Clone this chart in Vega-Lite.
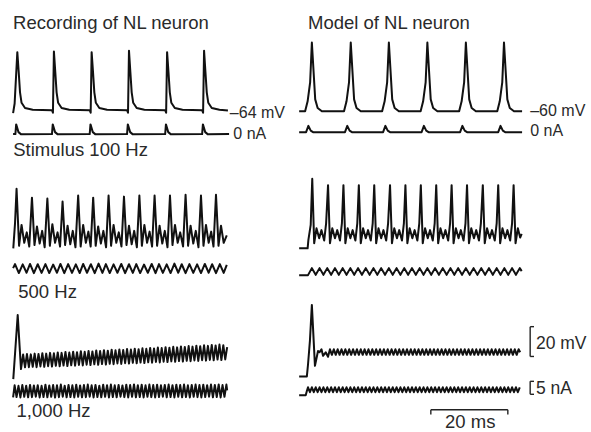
{
"$schema": "https://vega.github.io/schema/vega-lite/v6.json",
"width": 591, "height": 432,
"autosize": {"type": "fit", "contains": "padding"},
"padding": 0,
"background": "white",
"config": {"view": {"stroke": null}},
"datasets": {
"tr": [
{"k":"a","t":3.4,"v":212},{"k":"a","t":3.8,"v":218.5},{"k":"a","t":4.5,"v":253},{"k":"a","t":4.85,"v":240},{"k":"a","t":5.2,"v":226},{"k":"a","t":5.6,"v":219},{"k":"a","t":6.5,"v":215.5},{"k":"a","t":8.5,"v":214.3},{"k":"a","t":13.5,"v":214},{"k":"a","t":13.75,"v":212.3},
{"k":"a","t":14.0,"v":253.5},{"k":"a","t":14.35,"v":240},{"k":"a","t":14.7,"v":226},{"k":"a","t":15.1,"v":219},{"k":"a","t":16.0,"v":215.5},{"k":"a","t":18.0,"v":214.3},{"k":"a","t":23.3,"v":214},{"k":"a","t":23.55,"v":212.3},
{"k":"a","t":23.8,"v":253},{"k":"a","t":24.15,"v":240},{"k":"a","t":24.5,"v":226},{"k":"a","t":24.9,"v":219},{"k":"a","t":25.8,"v":215.5},{"k":"a","t":27.8,"v":214.3},{"k":"a","t":33.0,"v":214},{"k":"a","t":33.25,"v":212.3},
{"k":"a","t":33.5,"v":254},{"k":"a","t":33.85,"v":240},{"k":"a","t":34.2,"v":226},{"k":"a","t":34.6,"v":219},{"k":"a","t":35.5,"v":215.5},{"k":"a","t":37.5,"v":214.3},{"k":"a","t":42.9,"v":214},{"k":"a","t":43.15,"v":212.3},
{"k":"a","t":43.4,"v":253},{"k":"a","t":43.75,"v":240},{"k":"a","t":44.1,"v":226},{"k":"a","t":44.5,"v":219},{"k":"a","t":45.4,"v":215.5},{"k":"a","t":47.4,"v":214.3},{"k":"a","t":52.5,"v":214},{"k":"a","t":52.75,"v":212.3},
{"k":"a","t":53.0,"v":254},{"k":"a","t":53.35,"v":240},{"k":"a","t":53.7,"v":226},{"k":"a","t":54.1,"v":219},{"k":"a","t":55.0,"v":215.5},{"k":"a","t":57.0,"v":214.3},{"k":"a","t":59.2,"v":213.8},
{"k":"b","t":3.4,"v":198},{"k":"b","t":4.0,"v":198},{"k":"b","t":4.2,"v":204.5},{"k":"b","t":4.8,"v":199.3},{"k":"b","t":5.5,"v":197.8},
{"k":"b","t":13.5,"v":198},{"k":"b","t":13.7,"v":204.5},{"k":"b","t":14.3,"v":199.3},{"k":"b","t":15.0,"v":197.8},
{"k":"b","t":23.3,"v":198},{"k":"b","t":23.5,"v":204.5},{"k":"b","t":24.1,"v":199.3},{"k":"b","t":24.8,"v":197.8},
{"k":"b","t":33.0,"v":198},{"k":"b","t":33.2,"v":204.5},{"k":"b","t":33.8,"v":199.3},{"k":"b","t":34.5,"v":197.8},
{"k":"b","t":42.9,"v":198},{"k":"b","t":43.1,"v":204.5},{"k":"b","t":43.7,"v":199.3},{"k":"b","t":44.4,"v":197.8},
{"k":"b","t":52.5,"v":198},{"k":"b","t":52.7,"v":204.5},{"k":"b","t":53.3,"v":199.3},{"k":"b","t":54.0,"v":197.8},{"k":"b","t":59.5,"v":198},
{"k":"c","t":77.7,"v":213.3},
{"k":"c","t":79.25,"v":213.3},{"k":"c","t":79.9,"v":220},{"k":"c","t":80.55,"v":232.7},{"k":"c","t":81.0,"v":259.5},{"k":"c","t":81.87,"v":221.3},{"k":"c","t":82.5,"v":215.5},{"k":"c","t":83.6,"v":213.3},
{"k":"c","t":89.35,"v":213.3},{"k":"c","t":90.0,"v":220},{"k":"c","t":90.65,"v":232.7},{"k":"c","t":91.1,"v":259.5},{"k":"c","t":91.97,"v":221.3},{"k":"c","t":92.6,"v":215.5},{"k":"c","t":93.7,"v":213.3},
{"k":"c","t":99.25,"v":213.3},{"k":"c","t":99.9,"v":220},{"k":"c","t":100.55,"v":232.7},{"k":"c","t":101.0,"v":259.5},{"k":"c","t":101.87,"v":221.3},{"k":"c","t":102.5,"v":215.5},{"k":"c","t":103.6,"v":213.3},
{"k":"c","t":109.25,"v":213.3},{"k":"c","t":109.9,"v":220},{"k":"c","t":110.55,"v":232.7},{"k":"c","t":111.0,"v":259.5},{"k":"c","t":111.87,"v":221.3},{"k":"c","t":112.5,"v":215.5},{"k":"c","t":113.6,"v":213.3},
{"k":"c","t":119.25,"v":213.3},{"k":"c","t":119.9,"v":220},{"k":"c","t":120.55,"v":232.7},{"k":"c","t":121.0,"v":259.5},{"k":"c","t":121.87,"v":221.3},{"k":"c","t":122.5,"v":215.5},{"k":"c","t":123.6,"v":213.3},
{"k":"c","t":129.15,"v":213.3},{"k":"c","t":129.8,"v":220},{"k":"c","t":130.45,"v":232.7},{"k":"c","t":130.9,"v":259.5},{"k":"c","t":131.77,"v":221.3},{"k":"c","t":132.4,"v":215.5},{"k":"c","t":133.5,"v":213.3},{"k":"c","t":135.6,"v":213.3},
{"k":"d","t":77.7,"v":199.3},
{"k":"d","t":79.5,"v":199.3},{"k":"d","t":80.1,"v":203.5},{"k":"d","t":80.7,"v":200.3},{"k":"d","t":81.3,"v":199.3},
{"k":"d","t":89.6,"v":199.3},{"k":"d","t":90.2,"v":203.5},{"k":"d","t":90.8,"v":200.3},{"k":"d","t":91.4,"v":199.3},
{"k":"d","t":99.5,"v":199.3},{"k":"d","t":100.1,"v":203.5},{"k":"d","t":100.7,"v":200.3},{"k":"d","t":101.3,"v":199.3},
{"k":"d","t":109.5,"v":199.3},{"k":"d","t":110.1,"v":203.5},{"k":"d","t":110.7,"v":200.3},{"k":"d","t":111.3,"v":199.3},
{"k":"d","t":119.5,"v":199.3},{"k":"d","t":120.1,"v":203.5},{"k":"d","t":120.7,"v":200.3},{"k":"d","t":121.3,"v":199.3},
{"k":"d","t":129.4,"v":199.3},{"k":"d","t":130.0,"v":203.5},{"k":"d","t":130.6,"v":200.3},{"k":"d","t":131.2,"v":199.3},{"k":"d","t":135.6,"v":199.3},
{"k":"e","t":3.45,"v":121.3},{"k":"e","t":3.9,"v":138},{"k":"e","t":4.3,"v":161.3},
{"k":"e","t":4.95,"v":123},{"k":"e","t":5.6,"v":137},{"k":"e","t":6.3,"v":125},{"k":"e","t":6.95,"v":132},{"k":"e","t":7.6,"v":122.5},{"k":"e","t":8.3,"v":155.3},
{"k":"e","t":8.95,"v":123.5},{"k":"e","t":9.6,"v":136},{"k":"e","t":10.3,"v":124.5},{"k":"e","t":10.95,"v":133},{"k":"e","t":11.6,"v":122},{"k":"e","t":12.3,"v":154.7},
{"k":"e","t":12.95,"v":123},{"k":"e","t":13.6,"v":137.5},{"k":"e","t":14.3,"v":125},{"k":"e","t":14.95,"v":132},{"k":"e","t":15.6,"v":122.5},{"k":"e","t":16.25,"v":152.7},
{"k":"e","t":16.9,"v":123.5},{"k":"e","t":17.55,"v":136.5},{"k":"e","t":18.25,"v":124},{"k":"e","t":18.9,"v":133},{"k":"e","t":19.6,"v":122},{"k":"e","t":20.3,"v":156.7},
{"k":"e","t":20.95,"v":122.5},{"k":"e","t":21.6,"v":137},{"k":"e","t":22.3,"v":125},{"k":"e","t":22.95,"v":132.5},{"k":"e","t":23.55,"v":122.5},{"k":"e","t":24.2,"v":155.3},
{"k":"e","t":24.85,"v":123},{"k":"e","t":25.5,"v":136},{"k":"e","t":26.2,"v":124.5},{"k":"e","t":26.85,"v":133},{"k":"e","t":27.55,"v":122},{"k":"e","t":28.2,"v":156.7},
{"k":"e","t":28.85,"v":123},{"k":"e","t":29.5,"v":137},{"k":"e","t":30.2,"v":125},{"k":"e","t":30.85,"v":132},{"k":"e","t":31.55,"v":122.5},{"k":"e","t":32.2,"v":156},
{"k":"e","t":32.85,"v":123.5},{"k":"e","t":33.5,"v":136.5},{"k":"e","t":34.2,"v":124},{"k":"e","t":34.85,"v":133},{"k":"e","t":35.55,"v":122},{"k":"e","t":36.2,"v":156.7},
{"k":"e","t":36.85,"v":123},{"k":"e","t":37.5,"v":137},{"k":"e","t":38.2,"v":125},{"k":"e","t":38.85,"v":132.5},{"k":"e","t":39.5,"v":122.5},{"k":"e","t":40.15,"v":156.7},
{"k":"e","t":40.8,"v":123},{"k":"e","t":41.45,"v":136.5},{"k":"e","t":42.15,"v":124.5},{"k":"e","t":42.8,"v":133},{"k":"e","t":43.5,"v":122},{"k":"e","t":44.15,"v":156.7},
{"k":"e","t":44.8,"v":123.5},{"k":"e","t":45.45,"v":137},{"k":"e","t":46.15,"v":125},{"k":"e","t":46.8,"v":132},{"k":"e","t":47.55,"v":122.5},{"k":"e","t":48.2,"v":157.3},
{"k":"e","t":48.85,"v":123},{"k":"e","t":49.5,"v":136.5},{"k":"e","t":50.2,"v":124.5},{"k":"e","t":50.85,"v":133},{"k":"e","t":51.55,"v":122},{"k":"e","t":52.2,"v":156.7},
{"k":"e","t":52.85,"v":123},{"k":"e","t":53.5,"v":137},{"k":"e","t":54.2,"v":125},{"k":"e","t":54.85,"v":132.5},{"k":"e","t":55.45,"v":122.5},{"k":"e","t":56.1,"v":157.3},
{"k":"e","t":56.75,"v":123},{"k":"e","t":57.4,"v":136.5},{"k":"e","t":58.1,"v":125},{"k":"e","t":58.9,"v":130},
{"k":"f","t":3.4,"v":108},{"k":"f","t":3.9,"v":110.7},{"k":"f","t":4.9,"v":104.7},{"k":"f","t":5.9,"v":110.5},{"k":"f","t":6.9,"v":104.9},{"k":"f","t":7.8,"v":110.8},{"k":"f","t":8.8,"v":104.6},{"k":"f","t":9.8,"v":110.6},{"k":"f","t":10.8,"v":104.8},{"k":"f","t":11.8,"v":110.7},{"k":"f","t":12.8,"v":104.7},{"k":"f","t":13.8,"v":110.4},{"k":"f","t":14.8,"v":104.9},{"k":"f","t":15.7,"v":110.8},{"k":"f","t":16.7,"v":104.6},{"k":"f","t":17.7,"v":110.7},{"k":"f","t":18.7,"v":104.8},{"k":"f","t":19.7,"v":110.5},{"k":"f","t":20.7,"v":104.7},{"k":"f","t":21.6,"v":110.8},{"k":"f","t":22.6,"v":104.9},{"k":"f","t":23.6,"v":110.6},{"k":"f","t":24.6,"v":104.6},{"k":"f","t":25.6,"v":111},{"k":"f","t":26.6,"v":104.8},{"k":"f","t":27.5,"v":110.7},{"k":"f","t":28.5,"v":104.7},{"k":"f","t":29.5,"v":110.5},{"k":"f","t":30.5,"v":104.9},{"k":"f","t":31.5,"v":110.8},{"k":"f","t":32.5,"v":104.6},{"k":"f","t":33.5,"v":110.6},{"k":"f","t":34.5,"v":104.8},{"k":"f","t":35.4,"v":110.7},{"k":"f","t":36.4,"v":104.7},{"k":"f","t":37.4,"v":110.4},{"k":"f","t":38.4,"v":104.9},{"k":"f","t":39.4,"v":110.8},{"k":"f","t":40.4,"v":104.6},{"k":"f","t":41.3,"v":110.7},{"k":"f","t":42.3,"v":104.8},{"k":"f","t":43.3,"v":110.5},{"k":"f","t":44.3,"v":104.7},{"k":"f","t":45.3,"v":111},{"k":"f","t":46.3,"v":104.9},{"k":"f","t":47.2,"v":110.6},{"k":"f","t":48.2,"v":104.6},{"k":"f","t":49.2,"v":110.7},{"k":"f","t":50.2,"v":104.8},{"k":"f","t":51.2,"v":110.5},{"k":"f","t":52.2,"v":104.7},{"k":"f","t":53.2,"v":110.8},{"k":"f","t":54.2,"v":104.9},{"k":"f","t":55.1,"v":110.6},{"k":"f","t":56.1,"v":104.6},{"k":"f","t":57.1,"v":110.7},{"k":"f","t":58.1,"v":104.8},{"k":"f","t":58.9,"v":110.2},
{"k":"g","t":77.7,"v":121.3},{"k":"g","t":79.9,"v":121.3},{"k":"g","t":80.1,"v":127},{"k":"g","t":80.7,"v":137},{"k":"g","t":81.1,"v":168},
{"k":"g","t":81.6,"v":124.7},{"k":"g","t":82.2,"v":134.7},{"k":"g","t":82.9,"v":128},{"k":"g","t":83.5,"v":133.5},{"k":"g","t":84.2,"v":126.5},{"k":"g","t":84.7,"v":138},{"k":"g","t":85.2,"v":163.7},
{"k":"g","t":85.7,"v":124.7},{"k":"g","t":86.3,"v":134.7},{"k":"g","t":87.0,"v":128},{"k":"g","t":87.6,"v":133.5},{"k":"g","t":88.3,"v":126.5},{"k":"g","t":88.8,"v":138},{"k":"g","t":89.2,"v":163.7},
{"k":"g","t":89.7,"v":124.7},{"k":"g","t":90.3,"v":134.7},{"k":"g","t":91.0,"v":128},{"k":"g","t":91.6,"v":133.5},{"k":"g","t":92.3,"v":126.5},{"k":"g","t":92.8,"v":138},{"k":"g","t":93.2,"v":163.7},
{"k":"g","t":93.7,"v":124.7},{"k":"g","t":94.3,"v":134.7},{"k":"g","t":95.0,"v":128},{"k":"g","t":95.6,"v":133.5},{"k":"g","t":96.3,"v":126.5},{"k":"g","t":96.8,"v":138},{"k":"g","t":97.2,"v":163.7},
{"k":"g","t":97.7,"v":124.7},{"k":"g","t":98.3,"v":134.7},{"k":"g","t":99.0,"v":128},{"k":"g","t":99.6,"v":133.5},{"k":"g","t":100.3,"v":126.5},{"k":"g","t":100.8,"v":138},{"k":"g","t":101.3,"v":163.7},
{"k":"g","t":101.8,"v":124.7},{"k":"g","t":102.4,"v":134.7},{"k":"g","t":103.1,"v":128},{"k":"g","t":103.7,"v":133.5},{"k":"g","t":104.4,"v":126.5},{"k":"g","t":104.9,"v":138},{"k":"g","t":105.3,"v":163.7},
{"k":"g","t":105.8,"v":124.7},{"k":"g","t":106.4,"v":134.7},{"k":"g","t":107.1,"v":128},{"k":"g","t":107.7,"v":133.5},{"k":"g","t":108.4,"v":126.5},{"k":"g","t":108.9,"v":138},{"k":"g","t":109.3,"v":163.7},
{"k":"g","t":109.8,"v":124.7},{"k":"g","t":110.4,"v":134.7},{"k":"g","t":111.1,"v":128},{"k":"g","t":111.7,"v":133.5},{"k":"g","t":112.4,"v":126.5},{"k":"g","t":112.9,"v":138},{"k":"g","t":113.3,"v":163.7},
{"k":"g","t":113.8,"v":124.7},{"k":"g","t":114.4,"v":134.7},{"k":"g","t":115.1,"v":128},{"k":"g","t":115.7,"v":133.5},{"k":"g","t":116.4,"v":126.5},{"k":"g","t":116.9,"v":138},{"k":"g","t":117.3,"v":163.7},
{"k":"g","t":117.8,"v":124.7},{"k":"g","t":118.4,"v":134.7},{"k":"g","t":119.1,"v":128},{"k":"g","t":119.7,"v":133.5},{"k":"g","t":120.4,"v":126.5},{"k":"g","t":120.9,"v":138},{"k":"g","t":121.3,"v":163.7},
{"k":"g","t":121.8,"v":124.7},{"k":"g","t":122.4,"v":134.7},{"k":"g","t":123.1,"v":128},{"k":"g","t":123.7,"v":133.5},{"k":"g","t":124.4,"v":126.5},{"k":"g","t":124.9,"v":138},{"k":"g","t":125.4,"v":163.7},
{"k":"g","t":125.9,"v":124.7},{"k":"g","t":126.5,"v":134.7},{"k":"g","t":127.2,"v":128},{"k":"g","t":127.8,"v":133.5},{"k":"g","t":128.5,"v":126.5},{"k":"g","t":129.0,"v":138},{"k":"g","t":129.4,"v":163.7},
{"k":"g","t":129.9,"v":124.7},{"k":"g","t":130.5,"v":134.7},{"k":"g","t":131.2,"v":128},{"k":"g","t":131.8,"v":133.5},{"k":"g","t":132.5,"v":126.5},{"k":"g","t":133.0,"v":138},{"k":"g","t":133.4,"v":163.7},
{"k":"g","t":133.9,"v":124.7},{"k":"g","t":134.5,"v":134.7},{"k":"g","t":135.1,"v":128.5},{"k":"g","t":135.5,"v":131},
{"k":"h","t":77.7,"v":103.3},{"k":"h","t":80.0,"v":103.3},{"k":"h","t":81,"v":108},{"k":"h","t":82,"v":103.5},{"k":"h","t":83,"v":108},{"k":"h","t":84,"v":103.5},{"k":"h","t":85,"v":108},{"k":"h","t":86,"v":103.5},{"k":"h","t":87,"v":108},{"k":"h","t":88,"v":103.5},{"k":"h","t":89,"v":108},{"k":"h","t":90,"v":103.5},{"k":"h","t":91,"v":108},{"k":"h","t":92,"v":103.5},{"k":"h","t":93,"v":108},{"k":"h","t":94,"v":103.5},{"k":"h","t":95,"v":108},{"k":"h","t":96,"v":103.5},{"k":"h","t":97,"v":108},{"k":"h","t":98,"v":103.5},{"k":"h","t":99,"v":108},{"k":"h","t":100,"v":103.5},{"k":"h","t":101,"v":108},{"k":"h","t":102,"v":103.5},{"k":"h","t":103,"v":108},{"k":"h","t":104,"v":103.5},{"k":"h","t":105,"v":108},{"k":"h","t":106,"v":103.5},{"k":"h","t":107,"v":108},{"k":"h","t":108,"v":103.5},{"k":"h","t":109,"v":108},{"k":"h","t":110,"v":103.5},{"k":"h","t":111,"v":108},{"k":"h","t":112,"v":103.5},{"k":"h","t":113,"v":108},{"k":"h","t":114,"v":103.5},{"k":"h","t":115,"v":108},{"k":"h","t":116,"v":103.5},{"k":"h","t":117,"v":108},{"k":"h","t":118,"v":103.5},{"k":"h","t":119,"v":108},{"k":"h","t":120,"v":103.5},{"k":"h","t":121,"v":108},{"k":"h","t":122,"v":103.5},{"k":"h","t":123,"v":108},{"k":"h","t":124,"v":103.5},{"k":"h","t":125,"v":108},{"k":"h","t":126,"v":103.5},{"k":"h","t":127,"v":108},{"k":"h","t":128,"v":103.5},{"k":"h","t":129,"v":108},{"k":"h","t":130,"v":103.5},{"k":"h","t":131,"v":108},{"k":"h","t":132,"v":103.5},{"k":"h","t":133,"v":108},{"k":"h","t":134,"v":103.5},{"k":"h","t":135,"v":108},{"k":"h","t":135.5,"v":106},
{"k":"i","t":3.45,"v":33.5},{"k":"i","t":4.6,"v":76.5},{"k":"i","t":5.45,"v":40.2},
{"k":"i","t":6,"v":50.0},{"k":"i","t":6.5,"v":41.4},{"k":"i","t":7,"v":50.3},{"k":"i","t":7.5,"v":41.5},{"k":"i","t":8,"v":50.1},{"k":"i","t":8.5,"v":41.8},{"k":"i","t":9,"v":50.6},{"k":"i","t":9.5,"v":41.5},{"k":"i","t":10,"v":50.4},{"k":"i","t":10.5,"v":42.0},{"k":"i","t":11,"v":50.9},{"k":"i","t":11.5,"v":41.7},{"k":"i","t":12,"v":50.6},{"k":"i","t":12.5,"v":42.2},{"k":"i","t":13,"v":51.1},{"k":"i","t":13.5,"v":41.9},{"k":"i","t":14,"v":50.8},{"k":"i","t":14.5,"v":42.4},{"k":"i","t":15,"v":51.4},{"k":"i","t":15.5,"v":42.1},{"k":"i","t":16,"v":51.1},{"k":"i","t":16.5,"v":42.6},{"k":"i","t":17,"v":51.7},{"k":"i","t":17.5,"v":42.3},{"k":"i","t":18,"v":51.3},{"k":"i","t":18.5,"v":42.8},{"k":"i","t":19,"v":51.9},{"k":"i","t":19.5,"v":42.5},{"k":"i","t":20,"v":51.6},{"k":"i","t":20.5,"v":43.0},{"k":"i","t":21,"v":52.2},{"k":"i","t":21.5,"v":42.7},{"k":"i","t":22,"v":51.8},{"k":"i","t":22.5,"v":43.2},{"k":"i","t":23,"v":52.4},{"k":"i","t":23.5,"v":42.9},{"k":"i","t":24,"v":52.1},{"k":"i","t":24.5,"v":43.4},{"k":"i","t":25,"v":52.7},{"k":"i","t":25.5,"v":43.1},{"k":"i","t":26,"v":52.3},{"k":"i","t":26.5,"v":43.6},{"k":"i","t":27,"v":52.9},{"k":"i","t":27.5,"v":43.3},{"k":"i","t":28,"v":52.6},{"k":"i","t":28.5,"v":43.8},{"k":"i","t":29,"v":53.2},{"k":"i","t":29.5,"v":43.5},{"k":"i","t":30,"v":52.8},{"k":"i","t":30.5,"v":44.0},{"k":"i","t":31,"v":53.4},{"k":"i","t":31.5,"v":43.7},{"k":"i","t":32,"v":53.1},{"k":"i","t":32.5,"v":44.2},{"k":"i","t":33,"v":53.7},{"k":"i","t":33.5,"v":43.9},{"k":"i","t":34,"v":53.3},{"k":"i","t":34.5,"v":44.4},{"k":"i","t":35,"v":53.9},{"k":"i","t":35.5,"v":44.1},{"k":"i","t":36,"v":53.6},{"k":"i","t":36.5,"v":44.6},{"k":"i","t":37,"v":54.2},{"k":"i","t":37.5,"v":44.3},{"k":"i","t":38,"v":53.8},{"k":"i","t":38.5,"v":44.8},{"k":"i","t":39,"v":54.4},{"k":"i","t":39.5,"v":44.5},{"k":"i","t":40,"v":54.1},{"k":"i","t":40.5,"v":45.0},{"k":"i","t":41,"v":54.7},{"k":"i","t":41.5,"v":44.7},{"k":"i","t":42,"v":54.3},{"k":"i","t":42.5,"v":45.2},{"k":"i","t":43,"v":54.9},{"k":"i","t":43.5,"v":44.9},{"k":"i","t":44,"v":54.6},{"k":"i","t":44.5,"v":45.4},{"k":"i","t":45,"v":55.2},{"k":"i","t":45.5,"v":45.1},{"k":"i","t":46,"v":54.8},{"k":"i","t":46.5,"v":45.6},{"k":"i","t":47,"v":55.4},{"k":"i","t":47.5,"v":45.3},{"k":"i","t":48,"v":55.1},{"k":"i","t":48.5,"v":45.8},{"k":"i","t":49,"v":55.7},{"k":"i","t":49.5,"v":45.5},{"k":"i","t":50,"v":55.3},{"k":"i","t":50.5,"v":46.0},{"k":"i","t":51,"v":55.9},{"k":"i","t":51.5,"v":45.7},{"k":"i","t":52,"v":55.6},{"k":"i","t":52.5,"v":46.2},{"k":"i","t":53,"v":56.2},{"k":"i","t":53.5,"v":45.9},{"k":"i","t":54,"v":55.8},{"k":"i","t":54.5,"v":46.4},{"k":"i","t":55,"v":56.4},{"k":"i","t":55.5,"v":46.1},{"k":"i","t":56,"v":56.1},{"k":"i","t":56.5,"v":46.6},{"k":"i","t":57,"v":56.7},{"k":"i","t":57.5,"v":46.3},{"k":"i","t":58,"v":56.3},{"k":"i","t":58.5,"v":46.7},{"k":"i","t":59,"v":55.0},
{"k":"j","t":3.4,"v":21.3},{"k":"j","t":3.8,"v":29.3},{"k":"j","t":4.3,"v":21.5},{"k":"j","t":4.8,"v":29.0},{"k":"j","t":5.3,"v":21.2},{"k":"j","t":5.8,"v":29.5},{"k":"j","t":6.3,"v":21.6},{"k":"j","t":6.8,"v":29.1},{"k":"j","t":7.3,"v":21.3},{"k":"j","t":7.8,"v":29.6},{"k":"j","t":8.3,"v":21.4},{"k":"j","t":8.8,"v":29.2},{"k":"j","t":9.3,"v":21.7},{"k":"j","t":9.8,"v":29.4},{"k":"j","t":10.3,"v":21.2},{"k":"j","t":10.8,"v":29.0},{"k":"j","t":11.3,"v":21.5},{"k":"j","t":11.8,"v":29.7},{"k":"j","t":12.3,"v":21.3},{"k":"j","t":12.8,"v":29.2},{"k":"j","t":13.3,"v":21.6},{"k":"j","t":13.8,"v":29.5},{"k":"j","t":14.3,"v":21.1},{"k":"j","t":14.8,"v":29.3},{"k":"j","t":15.3,"v":21.4},{"k":"j","t":15.8,"v":29.8},{"k":"j","t":16.3,"v":21.7},{"k":"j","t":16.8,"v":29.1},{"k":"j","t":17.3,"v":21.3},{"k":"j","t":17.8,"v":29.6},{"k":"j","t":18.3,"v":21.5},{"k":"j","t":18.8,"v":29.3},{"k":"j","t":19.3,"v":21.2},{"k":"j","t":19.8,"v":29.7},{"k":"j","t":20.3,"v":21.6},{"k":"j","t":20.8,"v":29.2},{"k":"j","t":21.3,"v":21.3},{"k":"j","t":21.8,"v":29.5},{"k":"j","t":22.3,"v":21.4},{"k":"j","t":22.8,"v":29.8},{"k":"j","t":23.3,"v":21.7},{"k":"j","t":23.8,"v":29.3},{"k":"j","t":24.3,"v":21.2},{"k":"j","t":24.8,"v":29.6},{"k":"j","t":25.3,"v":21.5},{"k":"j","t":25.8,"v":29.1},{"k":"j","t":26.3,"v":21.3},{"k":"j","t":26.8,"v":29.7},{"k":"j","t":27.3,"v":21.6},{"k":"j","t":27.8,"v":29.4},{"k":"j","t":28.3,"v":21.2},{"k":"j","t":28.8,"v":29.8},{"k":"j","t":29.3,"v":21.5},{"k":"j","t":29.8,"v":29.3},{"k":"j","t":30.3,"v":21.3},{"k":"j","t":30.8,"v":29.6},{"k":"j","t":31.3,"v":21.7},{"k":"j","t":31.8,"v":29.2},{"k":"j","t":32.3,"v":21.4},{"k":"j","t":32.8,"v":29.7},{"k":"j","t":33.3,"v":21.2},{"k":"j","t":33.8,"v":29.5},{"k":"j","t":34.3,"v":21.6},{"k":"j","t":34.8,"v":29.9},{"k":"j","t":35.3,"v":21.3},{"k":"j","t":35.8,"v":29.4},{"k":"j","t":36.3,"v":21.5},{"k":"j","t":36.8,"v":29.7},{"k":"j","t":37.3,"v":21.2},{"k":"j","t":37.8,"v":29.3},{"k":"j","t":38.3,"v":21.6},{"k":"j","t":38.8,"v":29.8},{"k":"j","t":39.3,"v":21.4},{"k":"j","t":39.8,"v":29.5},{"k":"j","t":40.3,"v":21.2},{"k":"j","t":40.8,"v":29.7},{"k":"j","t":41.3,"v":21.5},{"k":"j","t":41.8,"v":29.3},{"k":"j","t":42.3,"v":21.7},{"k":"j","t":42.8,"v":29.6},{"k":"j","t":43.3,"v":21.3},{"k":"j","t":43.8,"v":29.8},{"k":"j","t":44.3,"v":21.5},{"k":"j","t":44.8,"v":29.4},{"k":"j","t":45.3,"v":21.2},{"k":"j","t":45.8,"v":29.7},{"k":"j","t":46.3,"v":21.6},{"k":"j","t":46.8,"v":29.5},{"k":"j","t":47.3,"v":21.3},{"k":"j","t":47.8,"v":29.8},{"k":"j","t":48.3,"v":21.5},{"k":"j","t":48.8,"v":29.3},{"k":"j","t":49.3,"v":21.2},{"k":"j","t":49.8,"v":29.6},{"k":"j","t":50.3,"v":21.6},{"k":"j","t":50.8,"v":29.8},{"k":"j","t":51.3,"v":21.4},{"k":"j","t":51.8,"v":29.5},{"k":"j","t":52.3,"v":21.2},{"k":"j","t":52.8,"v":29.7},{"k":"j","t":53.3,"v":21.5},{"k":"j","t":53.8,"v":29.4},{"k":"j","t":54.3,"v":21.7},{"k":"j","t":54.8,"v":29.8},{"k":"j","t":55.3,"v":21.3},{"k":"j","t":55.8,"v":29.6},{"k":"j","t":56.3,"v":21.5},{"k":"j","t":56.8,"v":29.9},{"k":"j","t":57.3,"v":21.2},{"k":"j","t":57.8,"v":29.5},{"k":"j","t":58.3,"v":21.6},{"k":"j","t":58.8,"v":29.8},{"k":"j","t":59.0,"v":26},
{"k":"l","t":77.7,"v":35.3},{"k":"l","t":79.7,"v":35.3},{"k":"l","t":80.0,"v":43.3},{"k":"l","t":80.5,"v":59.3},{"k":"l","t":81.0,"v":83.3},{"k":"l","t":81.8,"v":42.4},{"k":"l","t":82.6,"v":52.4},{"k":"l","t":83.0,"v":51.5},{"k":"l","t":83.5,"v":53.5},{"k":"l","t":83.9,"v":49.1},{"k":"l","t":84.6,"v":51.5},{"k":"l","t":85.2,"v":48.5},
{"k":"l","t":85.7,"v":53.5},{"k":"l","t":86.2,"v":49.8},{"k":"l","t":86.7,"v":53.5},{"k":"l","t":87.2,"v":49.8},{"k":"l","t":87.7,"v":53.5},{"k":"l","t":88.2,"v":49.8},{"k":"l","t":88.7,"v":53.5},{"k":"l","t":89.2,"v":49.8},{"k":"l","t":89.7,"v":53.5},{"k":"l","t":90.2,"v":49.8},{"k":"l","t":90.7,"v":53.5},{"k":"l","t":91.2,"v":49.8},{"k":"l","t":91.7,"v":53.5},{"k":"l","t":92.2,"v":49.8},{"k":"l","t":92.7,"v":53.5},{"k":"l","t":93.2,"v":49.8},{"k":"l","t":93.7,"v":53.5},{"k":"l","t":94.2,"v":49.8},{"k":"l","t":94.7,"v":53.5},{"k":"l","t":95.2,"v":49.8},{"k":"l","t":95.7,"v":53.5},{"k":"l","t":96.2,"v":49.8},{"k":"l","t":96.7,"v":53.5},{"k":"l","t":97.2,"v":49.8},{"k":"l","t":97.7,"v":53.5},{"k":"l","t":98.2,"v":49.8},{"k":"l","t":98.7,"v":53.5},{"k":"l","t":99.2,"v":49.8},{"k":"l","t":99.7,"v":53.5},{"k":"l","t":100.2,"v":49.8},{"k":"l","t":100.7,"v":53.5},{"k":"l","t":101.2,"v":49.8},{"k":"l","t":101.7,"v":53.5},{"k":"l","t":102.2,"v":49.8},{"k":"l","t":102.7,"v":53.5},{"k":"l","t":103.2,"v":49.8},{"k":"l","t":103.7,"v":53.5},{"k":"l","t":104.2,"v":49.8},{"k":"l","t":104.7,"v":53.5},{"k":"l","t":105.2,"v":49.8},{"k":"l","t":105.7,"v":53.5},{"k":"l","t":106.2,"v":49.8},{"k":"l","t":106.7,"v":53.5},{"k":"l","t":107.2,"v":49.8},{"k":"l","t":107.7,"v":53.5},{"k":"l","t":108.2,"v":49.8},{"k":"l","t":108.7,"v":53.5},{"k":"l","t":109.2,"v":49.8},{"k":"l","t":109.7,"v":53.5},{"k":"l","t":110.2,"v":49.8},{"k":"l","t":110.7,"v":53.5},{"k":"l","t":111.2,"v":49.8},{"k":"l","t":111.7,"v":53.5},{"k":"l","t":112.2,"v":49.8},{"k":"l","t":112.7,"v":53.5},{"k":"l","t":113.2,"v":49.8},{"k":"l","t":113.7,"v":53.5},{"k":"l","t":114.2,"v":49.8},{"k":"l","t":114.7,"v":53.5},{"k":"l","t":115.2,"v":49.8},{"k":"l","t":115.7,"v":53.5},{"k":"l","t":116.2,"v":49.8},{"k":"l","t":116.7,"v":53.5},{"k":"l","t":117.2,"v":49.8},{"k":"l","t":117.7,"v":53.5},{"k":"l","t":118.2,"v":49.8},{"k":"l","t":118.7,"v":53.5},{"k":"l","t":119.2,"v":49.8},{"k":"l","t":119.7,"v":53.5},{"k":"l","t":120.2,"v":49.8},{"k":"l","t":120.7,"v":53.5},{"k":"l","t":121.2,"v":49.8},{"k":"l","t":121.7,"v":53.5},{"k":"l","t":122.2,"v":49.8},{"k":"l","t":122.7,"v":53.5},{"k":"l","t":123.2,"v":49.8},{"k":"l","t":123.7,"v":53.5},{"k":"l","t":124.2,"v":49.8},{"k":"l","t":124.7,"v":53.5},{"k":"l","t":125.2,"v":49.8},{"k":"l","t":125.7,"v":53.5},{"k":"l","t":126.2,"v":49.8},{"k":"l","t":126.7,"v":53.5},{"k":"l","t":127.2,"v":49.8},{"k":"l","t":127.7,"v":53.5},{"k":"l","t":128.2,"v":49.8},{"k":"l","t":128.7,"v":53.5},{"k":"l","t":129.2,"v":49.8},{"k":"l","t":129.7,"v":53.5},{"k":"l","t":130.2,"v":49.8},{"k":"l","t":130.7,"v":53.5},{"k":"l","t":131.2,"v":49.8},{"k":"l","t":131.7,"v":53.5},{"k":"l","t":132.2,"v":49.8},{"k":"l","t":132.7,"v":53.5},{"k":"l","t":133.2,"v":49.8},{"k":"l","t":133.7,"v":53.5},{"k":"l","t":134.2,"v":49.8},{"k":"l","t":134.7,"v":53.5},{"k":"l","t":135.1,"v":51.5},
{"k":"m","t":77.7,"v":22.7},{"k":"m","t":79.4,"v":22.7},{"k":"m","t":79.7,"v":25.5},
{"k":"m","t":80.0,"v":28},{"k":"m","t":80.5,"v":24.7},{"k":"m","t":81.0,"v":28},{"k":"m","t":81.5,"v":24.7},{"k":"m","t":82.0,"v":28},{"k":"m","t":82.5,"v":24.7},{"k":"m","t":83.0,"v":28},{"k":"m","t":83.5,"v":24.7},{"k":"m","t":84.0,"v":28},{"k":"m","t":84.5,"v":24.7},{"k":"m","t":85.0,"v":28},{"k":"m","t":85.5,"v":24.7},{"k":"m","t":86.0,"v":28},{"k":"m","t":86.5,"v":24.7},{"k":"m","t":87.0,"v":28},{"k":"m","t":87.5,"v":24.7},{"k":"m","t":88.0,"v":28},{"k":"m","t":88.5,"v":24.7},{"k":"m","t":89.0,"v":28},{"k":"m","t":89.5,"v":24.7},{"k":"m","t":90.0,"v":28},{"k":"m","t":90.5,"v":24.7},{"k":"m","t":91.0,"v":28},{"k":"m","t":91.5,"v":24.7},{"k":"m","t":92.0,"v":28},{"k":"m","t":92.5,"v":24.7},{"k":"m","t":93.0,"v":28},{"k":"m","t":93.5,"v":24.7},{"k":"m","t":94.0,"v":28},{"k":"m","t":94.5,"v":24.7},{"k":"m","t":95.0,"v":28},{"k":"m","t":95.5,"v":24.7},{"k":"m","t":96.0,"v":28},{"k":"m","t":96.5,"v":24.7},{"k":"m","t":97.0,"v":28},{"k":"m","t":97.5,"v":24.7},{"k":"m","t":98.0,"v":28},{"k":"m","t":98.5,"v":24.7},{"k":"m","t":99.0,"v":28},{"k":"m","t":99.5,"v":24.7},{"k":"m","t":100.0,"v":28},{"k":"m","t":100.5,"v":24.7},{"k":"m","t":101.0,"v":28},{"k":"m","t":101.5,"v":24.7},{"k":"m","t":102.0,"v":28},{"k":"m","t":102.5,"v":24.7},{"k":"m","t":103.0,"v":28},{"k":"m","t":103.5,"v":24.7},{"k":"m","t":104.0,"v":28},{"k":"m","t":104.5,"v":24.7},{"k":"m","t":105.0,"v":28},{"k":"m","t":105.5,"v":24.7},{"k":"m","t":106.0,"v":28},{"k":"m","t":106.5,"v":24.7},{"k":"m","t":107.0,"v":28},{"k":"m","t":107.5,"v":24.7},{"k":"m","t":108.0,"v":28},{"k":"m","t":108.5,"v":24.7},{"k":"m","t":109.0,"v":28},{"k":"m","t":109.5,"v":24.7},{"k":"m","t":110.0,"v":28},{"k":"m","t":110.5,"v":24.7},{"k":"m","t":111.0,"v":28},{"k":"m","t":111.5,"v":24.7},{"k":"m","t":112.0,"v":28},{"k":"m","t":112.5,"v":24.7},{"k":"m","t":113.0,"v":28},{"k":"m","t":113.5,"v":24.7},{"k":"m","t":114.0,"v":28},{"k":"m","t":114.5,"v":24.7},{"k":"m","t":115.0,"v":28},{"k":"m","t":115.5,"v":24.7},{"k":"m","t":116.0,"v":28},{"k":"m","t":116.5,"v":24.7},{"k":"m","t":117.0,"v":28},{"k":"m","t":117.5,"v":24.7},{"k":"m","t":118.0,"v":28},{"k":"m","t":118.5,"v":24.7},{"k":"m","t":119.0,"v":28},{"k":"m","t":119.5,"v":24.7},{"k":"m","t":120.0,"v":28},{"k":"m","t":120.5,"v":24.7},{"k":"m","t":121.0,"v":28},{"k":"m","t":121.5,"v":24.7},{"k":"m","t":122.0,"v":28},{"k":"m","t":122.5,"v":24.7},{"k":"m","t":123.0,"v":28},{"k":"m","t":123.5,"v":24.7},{"k":"m","t":124.0,"v":28},{"k":"m","t":124.5,"v":24.7},{"k":"m","t":125.0,"v":28},{"k":"m","t":125.5,"v":24.7},{"k":"m","t":126.0,"v":28},{"k":"m","t":126.5,"v":24.7},{"k":"m","t":127.0,"v":28},{"k":"m","t":127.5,"v":24.7},{"k":"m","t":128.0,"v":28},{"k":"m","t":128.5,"v":24.7},{"k":"m","t":129.0,"v":28},{"k":"m","t":129.5,"v":24.7},{"k":"m","t":130.0,"v":28},{"k":"m","t":130.5,"v":24.7},{"k":"m","t":131.0,"v":28},{"k":"m","t":131.5,"v":24.7},{"k":"m","t":132.0,"v":28},{"k":"m","t":132.5,"v":24.7},{"k":"m","t":133.0,"v":28},{"k":"m","t":133.5,"v":24.7},{"k":"m","t":134.0,"v":28},{"k":"m","t":134.5,"v":24.7},{"k":"m","t":135.0,"v":28}
],
"sb": [
{"t":137.7,"t2":137.7,"v":48.7,"v2":68.7},
{"t":137.7,"t2":138.7,"v":68.7,"v2":68.7},
{"t":137.7,"t2":138.7,"v":48.7,"v2":48.7},
{"t":137.7,"t2":137.7,"v":23.3,"v2":32},
{"t":137.7,"t2":138.7,"v":32,"v2":32},
{"t":137.7,"t2":138.7,"v":23.3,"v2":23.3},
{"t":111.9,"t2":131.9,"v":12.9,"v2":12.9},
{"t":111.9,"t2":111.9,"v":12.9,"v2":9.8},
{"t":131.9,"t2":131.9,"v":12.9,"v2":9.8}
],
"big": [
{"s":"Recording of NL neuron","t":3.4,"v":268.4},
{"s":"Model of NL neuron","t":80.0,"v":268.4},
{"s":"Stimulus 100 Hz","t":3.45,"v":183.5},
{"s":"500 Hz","t":4.75,"v":88},
{"s":"1,000 Hz","t":4.3,"v":8},
{"s":"20 ms","t":115.6,"v":0.4}
],
"unit": [
{"s":"–64 mV","t":59.7,"v":209.1},
{"s":"0 nA","t":60.6,"v":194.7},
{"s":"–60 mV","t":137.7,"v":209.8},
{"s":"0 nA","t":137.7,"v":196.9}
],
"scale": [
{"s":"20 mV","t":139.2,"v":53.5},
{"s":"5 nA","t":139.2,"v":23.5}
]
},
"encoding": {
"x": {"field": "t", "type": "quantitative", "scale": {"domain": [0, 153.5], "nice": false, "zero": false}, "axis": null},
"y": {"field": "v", "type": "quantitative", "scale": {"domain": [0, 288], "nice": false, "zero": false}, "axis": null}
},
"layer": [
{"data": {"name": "tr"}, "mark": {"type": "line", "color": "#111111", "strokeWidth": 2, "strokeJoin": "round", "clip": false}, "encoding": {"detail": {"field": "k", "type": "nominal"}}},
{"data": {"name": "sb"}, "mark": {"type": "rule", "color": "#222222", "strokeWidth": 1.4}, "encoding": {"x2": {"field": "t2"}, "y2": {"field": "v2"}}},
{"data": {"name": "big"}, "mark": {"type": "text", "align": "left", "baseline": "alphabetic", "font": "Liberation Sans", "fontSize": 18.5, "color": "#2a2a2a"}, "encoding": {"text": {"field": "s", "type": "nominal"}}},
{"data": {"name": "unit"}, "mark": {"type": "text", "align": "left", "baseline": "alphabetic", "font": "Liberation Sans", "fontSize": 16, "color": "#2a2a2a"}, "encoding": {"text": {"field": "s", "type": "nominal"}}},
{"data": {"name": "scale"}, "mark": {"type": "text", "align": "left", "baseline": "alphabetic", "font": "Liberation Sans", "fontSize": 17.5, "color": "#2a2a2a"}, "encoding": {"text": {"field": "s", "type": "nominal"}}}
]
}
